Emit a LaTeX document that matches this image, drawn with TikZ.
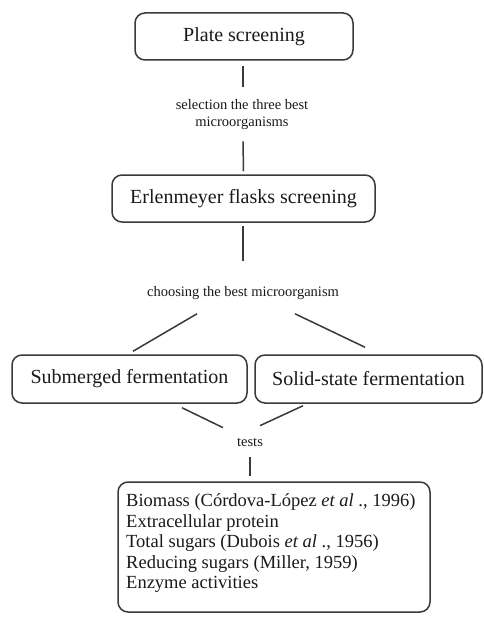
\documentclass[tikz,border=0pt]{standalone}
\usepackage{fontspec}
\setmainfont{Liberation Serif}
\definecolor{linegray}{HTML}{3A3A3A}
\definecolor{textgray}{HTML}{1A1A1A}
\begin{document}
\begin{tikzpicture}[x=1pt,y=-1pt,
  stagebox/.style={draw=linegray, line width=1.5pt, rounded corners=10pt, text=textgray,
    font=\fontsize{20}{24}\selectfont, inner sep=0pt},
  steplabel/.style={text=textgray, font=\fontsize{14.5}{17}\selectfont, align=center, inner sep=0pt},
  link/.style={draw=linegray, line width=1.5pt}]
\useasboundingbox (0,0) rectangle (483,618);
\fill[white] (0,0) rectangle (483,618);

\node[stagebox, minimum width=218pt, minimum height=47pt] (plate) at (244,36.5) {Plate screening};
\node[steplabel] (sel) at (242,115) {selection the three best\\microorganisms};
\node[stagebox, minimum width=263pt, minimum height=47pt] (erlen) at (243.5,198.5) {Erlenmeyer flasks screening};
\node[steplabel] (choose) at (243,293) {choosing the best microorganism};
\node[stagebox, minimum width=235pt, minimum height=48pt] (sub) at (129.5,379) {Submerged fermentation};
\node[stagebox, minimum width=227pt, minimum height=48pt] (solid) at (368.5,379) {Solid-state fermentation};
\node[steplabel] (tests) at (250,442) {tests};
\node[draw=linegray, line width=1.5pt, rounded corners=10pt, minimum width=312pt, minimum height=130pt, inner sep=0pt] (bio) at (274,547) {};
\node[anchor=north west, text=textgray, align=left, inner sep=0pt,
  font=\fontsize{18.5}{20.6}\selectfont] (biotext) at (126,493.5)
  {Biomass (Córdova-López \textit{et al} ., 1996)\\
   Extracellular protein\\
   Total sugars (Dubois \textit{et al} ., 1956)\\
   Reducing sugars (Miller, 1959)\\
   Enzyme activities};

\draw[link] ([xshift=-1pt,yshift=-5pt]plate.south) -- ([xshift=1pt,yshift=13pt]sel.north);
\draw[link] ([xshift=1pt,yshift=-11pt]sel.south) -- ([yshift=3pt]erlen.north);
\draw[link] ([xshift=-0.5pt,yshift=-3pt]erlen.south) -- ([yshift=25pt]choose.north);
\draw[link] ([xshift=-46pt,yshift=-14pt]choose.south) -- ([xshift=3.5pt,yshift=3pt]sub.north);
\draw[link] ([xshift=52pt,yshift=-14pt]choose.south) -- ([xshift=-3.5pt,yshift=7pt]solid.north);
\draw[link] ([xshift=52.5pt,yshift=-4pt]sub.south) -- ([xshift=-27pt,yshift=10pt]tests.north);
\draw[link] ([xshift=-65.5pt,yshift=-2pt]solid.south) -- ([xshift=10pt,yshift=12pt]tests.north);
\draw[link] ([yshift=-11pt]tests.south) -- ([yshift=5pt]bio.north -| tests.south);
\end{tikzpicture}
\end{document}
